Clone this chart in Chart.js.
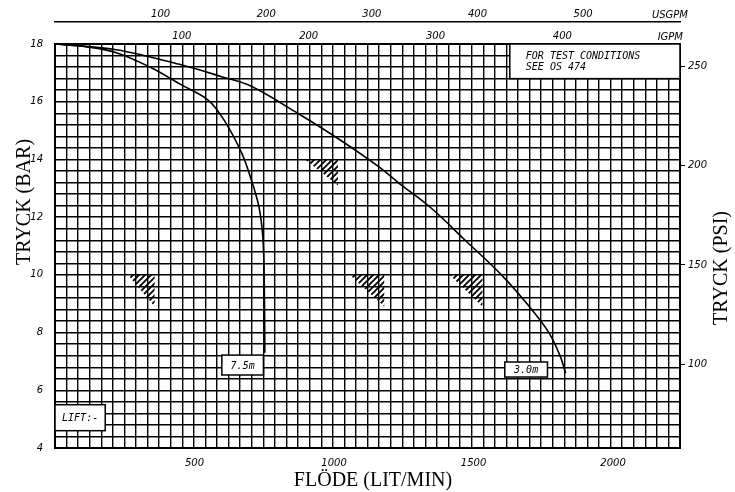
<!DOCTYPE html>
<html lang="sv">
<head>
    <meta charset="UTF-8">
    <title>Tryck / Flöde</title>
    <script src="https://cdn.jsdelivr.net/npm/chart.js@4"></script>
    <style>
        html, body { margin: 0; padding: 0; background: #fff; }
        .wrap { width: 735px; height: 492px; position: relative; }
    </style>
</head>
<body>
    <div class="wrap"><canvas id="pumpChart"></canvas></div>

    <script>
        // kurvdata, flöde (lit/min) mot tryck (bar)
        const flow75 = [0, 100, 220, 340, 450, 550, 610, 670, 700, 730, 745, 750, 752];
        const bar75 = [18, 17.92, 17.7, 17.2, 16.6, 16.05, 15.3, 14.2, 13.4, 12.4, 11.3, 9.7, 7.3];

        const flow30 = [0, 220, 455, 600, 700, 870, 1010, 1160, 1230, 1350, 1470, 1600, 1700, 1770, 1810, 1830];
        const bar30 = [18, 17.8, 17.27, 16.86, 16.55, 15.6, 14.75, 13.75, 13.2, 12.3, 11.2, 10.0, 8.9, 8.0, 7.2, 6.6];

        // skrafferade trianglar
        const hatchFrom = [261, 897, 1056, 1414];
        const hatchTo = [357, 1014, 1180, 1532];
        const hatchTop = [10, 14, 10, 10];
        const hatchBottom = [8.9, 13.1, 8.9, 8.9];

        // axlar
        const lpmTicks = [500, 1000, 1500, 2000];
        const usgpmTicks = [100, 200, 300, 400, 500];
        const igpmTicks = [100, 200, 300, 400];
        const psiTicks = [100, 150, 200, 250];
        const barLabels = [4, 6, 8, 10, 12, 14, 16, 18];

        const LPM_MAX = 2240;
        const BAR_MIN = 4, BAR_MAX = 18;
        const PSI_PER_BAR = 14.5038;
        const LPM_PER_USGAL = 3.78541, LPM_PER_IGAL = 4.54609;
        const GRID_COLS = 54;

        const serif = "'Liberation Serif', 'DejaVu Serif', serif";
        const tickFont = { family: "'DejaVu Sans', sans-serif", size: 10, style: 'italic' };
        const monoFont = "italic 10px 'DejaVu Sans Mono', monospace";

        // textrutor i datakoordinater
        const boxes = [
            { lines: ['7.5m'], x0: 598, x1: 747, y0: 7.22, y1: 6.53 },
            { lines: ['3.0m'], x0: 1612, x1: 1765, y0: 6.98, y1: 6.46 },
            { lines: ['LIFT:-'], x0: 0, x1: 180, y0: 5.5, y1: 4.6 },
            { lines: ['FOR TEST CONDITIONS', 'SEE OS 474'], x0: 1630, x1: LPM_MAX, y0: 18, y1: 16.8 }
        ];

        function pts(xs, ys) {
            return xs.map((x, i) => ({ x: x, y: ys[i] }));
        }

        // skrafferingsmönster
        const hatchCanvas = document.createElement('canvas');
        hatchCanvas.width = 6;
        hatchCanvas.height = 6;
        const hc = hatchCanvas.getContext('2d');
        hc.strokeStyle = '#000';
        hc.lineWidth = 1.8;
        hc.beginPath();
        hc.moveTo(-1, 7); hc.lineTo(7, -1);
        hc.moveTo(-1, 1); hc.lineTo(1, -1);
        hc.moveTo(5, 7); hc.lineTo(7, 5);
        hc.stroke();
        const hatchPattern = hc.createPattern(hatchCanvas, 'repeat');

        const hatchSets = hatchFrom.map((x0, i) => ({
            data: pts([x0, hatchTo[i], hatchTo[i], x0], [hatchTop[i], hatchTop[i], hatchBottom[i], hatchTop[i]]),
            borderWidth: 0,
            borderColor: 'rgba(0,0,0,0)',
            backgroundColor: hatchPattern,
            fill: 'shape',
            pointRadius: 0,
            tension: 0
        }));

        const curveStyle = { borderColor: '#000', borderWidth: 1.6, pointRadius: 0, fill: false, tension: 0.35 };

        const annotations = {
            id: 'annotations',
            beforeDatasetsDraw(chart) {
                const ctx = chart.ctx;
                const xs = chart.scales.x, ys = chart.scales.y;
                ctx.save();
                boxes.forEach(b => {
                    const l = xs.getPixelForValue(b.x0), r = xs.getPixelForValue(b.x1);
                    const t = ys.getPixelForValue(b.y0), btm = ys.getPixelForValue(b.y1);
                    ctx.fillStyle = '#fff';
                    ctx.fillRect(l, t, r - l, btm - t);
                    ctx.strokeStyle = '#000';
                    ctx.lineWidth = 1.5;
                    ctx.strokeRect(l, t, r - l, btm - t);
                    ctx.fillStyle = '#000';
                    ctx.font = monoFont;
                    ctx.textBaseline = 'middle';
                    if (b.lines.length === 1) {
                        ctx.textAlign = 'center';
                        ctx.fillText(b.lines[0], (l + r) / 2, (t + btm) / 2 + 1);
                    } else {
                        ctx.textAlign = 'left';
                        b.lines.forEach((s, i) => ctx.fillText(s, l + 16, t + 12 + i * 11));
                    }
                });
                ctx.restore();
            },
            afterDraw(chart) {
                const ctx = chart.ctx;
                const a = chart.chartArea;
                ctx.save();
                ctx.fillStyle = '#000';
                // enhetsetiketter uppe
                ctx.font = "italic 10px 'DejaVu Sans', sans-serif";
                ctx.textAlign = 'right';
                ctx.textBaseline = 'middle';
                ctx.fillText('USGPM', a.right + 8, 15);
                ctx.fillText('IGPM', a.right + 3, 37);
                // axeltitlar
                ctx.font = "20px " + serif;
                ctx.textAlign = 'center';
                ctx.fillText('FLÖDE (LIT/MIN)', 373, 481);
                ctx.translate(25, 202);
                ctx.rotate(-Math.PI / 2);
                ctx.fillText('TRYCK (BAR)', 0, 0);
                ctx.restore();
                ctx.save();
                ctx.font = "20px " + serif;
                ctx.fillStyle = '#000';
                ctx.textAlign = 'center';
                ctx.textBaseline = 'middle';
                ctx.translate(722, 268);
                ctx.rotate(-Math.PI / 2);
                ctx.fillText('TRYCK (PSI)', 0, 0);
                ctx.restore();
            }
        };

        function keepTicks(list) {
            return scale => { scale.ticks = list.map(v => ({ value: v })); };
        }
        const plain = v => String(Math.round(v));

        new Chart(document.getElementById('pumpChart'), {
            type: 'line',
            data: {
                datasets: [
                    Object.assign({ label: '7.5m', data: pts(flow75, bar75) }, curveStyle),
                    Object.assign({ label: '3.0m', data: pts(flow30, bar30) }, curveStyle),
                    ...hatchSets
                ]
            },
            options: {
                responsive: true,
                maintainAspectRatio: false,
                animation: false,
                layout: { padding: 0 },
                plugins: { legend: { display: false }, tooltip: { enabled: false } },
                scales: {
                    x: {
                        type: 'linear', position: 'bottom', min: 0, max: LPM_MAX,
                        afterBuildTicks: keepTicks(lpmTicks),
                        afterFit: s => { s.height = 44; },
                        grid: { drawOnChartArea: false, drawTicks: false },
                        border: { color: '#000', width: 2 },
                        ticks: { font: tickFont, color: '#000', padding: 9, autoSkip: false, maxRotation: 0, callback: plain }
                    },
                    gridX: {
                        type: 'linear', position: 'bottom', min: 0, max: LPM_MAX,
                        ticks: { display: false, stepSize: LPM_MAX / GRID_COLS, autoSkip: false },
                        afterFit: s => { s.height = 0; },
                        grid: { color: '#000', lineWidth: 1.4, drawTicks: false },
                        border: { display: false }
                    },
                    igpm: {
                        type: 'linear', position: 'top', weight: 0, min: 0, max: LPM_MAX / LPM_PER_IGAL,
                        afterBuildTicks: keepTicks(igpmTicks),
                        afterFit: s => { s.height = 22; },
                        grid: { drawOnChartArea: false, drawTicks: false },
                        border: { color: '#000', width: 2 },
                        ticks: { font: tickFont, color: '#000', padding: 2, autoSkip: false, maxRotation: 0, callback: plain }
                    },
                    usgpm: {
                        type: 'linear', position: 'top', weight: 1, min: 0, max: LPM_MAX / LPM_PER_USGAL,
                        afterBuildTicks: keepTicks(usgpmTicks),
                        afterFit: s => { s.height = 22; },
                        grid: { drawOnChartArea: false, drawTicks: false },
                        border: { color: '#000', width: 1.5 },
                        ticks: { font: tickFont, color: '#000', padding: 2, autoSkip: false, maxRotation: 0, callback: plain }
                    },
                    y: {
                        type: 'linear', position: 'left', min: BAR_MIN, max: BAR_MAX,
                        afterFit: s => { s.width = 55; },
                        grid: { color: '#000', lineWidth: 1.4, drawTicks: false },
                        border: { color: '#000', width: 2 },
                        ticks: {
                            stepSize: 0.4, autoSkip: false, font: tickFont, color: '#000', padding: 12,
                            callback: v => {
                                const r = Math.round(v);
                                return (Math.abs(v - r) < 1e-6 && barLabels.includes(r)) ? String(r) : '';
                            }
                        }
                    },
                    psi: {
                        type: 'linear', position: 'right', min: BAR_MIN * PSI_PER_BAR, max: BAR_MAX * PSI_PER_BAR,
                        afterBuildTicks: keepTicks(psiTicks),
                        afterFit: s => { s.width = 55; },
                        grid: { drawOnChartArea: false, drawTicks: true, tickLength: 5, color: '#000', lineWidth: 1 },
                        border: { color: '#000', width: 2 },
                        ticks: { font: tickFont, color: '#000', padding: 3, autoSkip: false, callback: plain }
                    }
                }
            },
            plugins: [annotations]
        });
    </script>
</body>
</html>
